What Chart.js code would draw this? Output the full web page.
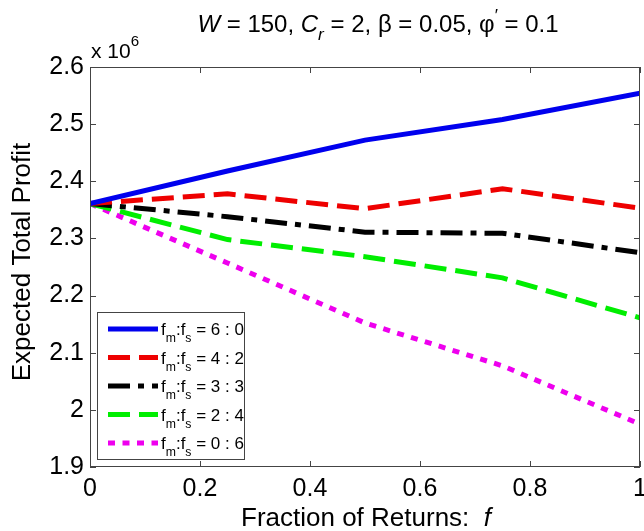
<!DOCTYPE html>
<html>
<head>
<meta charset="utf-8">
<script src="https://cdn.jsdelivr.net/npm/chart.js@4/dist/chart.umd.min.js"></script>
<style>
    html, body { margin: 0; background: #fff; }
    #wrap { width: 644px; height: 531px; }
</style>
</head>
<body>
<div id="wrap"><canvas id="profitChart"></canvas></div>
<script>
// Fraction of returns f
const fractions = [0, 0.25, 0.5, 0.75, 1];

// Expected total profit, in units of 10^6
const ratio60 = [2.361, 2.418, 2.472, 2.508, 2.554];
const ratio42 = [2.361, 2.378, 2.352, 2.387, 2.353];
const ratio33 = [2.361, 2.338, 2.311, 2.309, 2.275];
const ratio24 = [2.361, 2.298, 2.268, 2.231, 2.161];
const ratio06 = [2.361, 2.257, 2.152, 2.077, 1.975];

const seriesLabels = ['6 : 0', '4 : 2', '3 : 3', '2 : 4', '0 : 6'];
const xTicks = [0, 0.2, 0.4, 0.6, 0.8, 1];
const yTicks = [1.9, 2, 2.1, 2.2, 2.3, 2.4, 2.5, 2.6];

const FONT = '"Liberation Sans", Arial, Helvetica, sans-serif';

function toPoints(values) {
    return fractions.map((f, i) => ({ x: f, y: values[i] }));
}

// draw a list of text runs (italic / subscript / superscript)
function drawRuns(ctx, x, y, runs, size, align) {
    const fontOf = r => {
        const s = (r.sub || r.sup) ? size * 0.72 : size;
        return (r.italic ? 'italic ' : '') + s + 'px ' + FONT;
    };
    let total = 0;
    runs.forEach(r => { ctx.font = fontOf(r); total += ctx.measureText(r.t).width; });
    let cx = align === 'center' ? x - total / 2 : x;
    ctx.textAlign = 'left';
    ctx.textBaseline = 'alphabetic';
    runs.forEach(r => {
        ctx.font = fontOf(r);
        let dy = 0;
        if (r.sub) dy = size * (r.shift || 0.35);
        if (r.sup) dy = -size * (r.shift || 0.45);
        ctx.fillText(r.t, cx, y + dy);
        cx += ctx.measureText(r.t).width;
    });
}

const decorations = {
    id: 'decorations',
    afterDraw(chart) {
        const ctx = chart.ctx;
        const a = chart.chartArea;
        const xs = chart.scales.x, ys = chart.scales.y;
        ctx.save();

        // axes box and inward ticks
        ctx.strokeStyle = '#444';
        ctx.lineWidth = 1;
        ctx.strokeRect(a.left + 0.5, a.top + 0.5, a.right - a.left - 1, a.bottom - a.top - 1);
        ctx.beginPath();
        xTicks.forEach(v => {
            const px = Math.round(xs.getPixelForValue(v)) + 0.5;
            ctx.moveTo(px, a.bottom); ctx.lineTo(px, a.bottom - 6);
            ctx.moveTo(px, a.top); ctx.lineTo(px, a.top + 6);
        });
        yTicks.forEach(v => {
            const py = Math.round(ys.getPixelForValue(v)) + 0.5;
            ctx.moveTo(a.left, py); ctx.lineTo(a.left + 6, py);
            ctx.moveTo(a.right, py); ctx.lineTo(a.right - 6, py);
        });
        ctx.stroke();

        ctx.fillStyle = '#000';
        // title
        drawRuns(ctx, 378, 32, [
            { t: 'W', italic: true }, { t: ' = 150, ' },
            { t: 'C', italic: true }, { t: 'r', italic: true, sub: true },
            { t: ' = 2, β = 0.05, φ' }, { t: '′', sup: true }, { t: ' = 0.1' }
        ], 24, 'center');

        // exponent label
        drawRuns(ctx, a.left + 1, 58, [{ t: 'x 10' }, { t: '6', sup: true, shift: 0.55 }], 21, 'left');

        // x axis title
        drawRuns(ctx, 366, 526, [
            { t: 'Fraction of Returns:  ' }, { t: 'f', italic: true }
        ], 26, 'center');

        // y axis title
        ctx.save();
        ctx.translate(30, 262);
        ctx.rotate(-Math.PI / 2);
        drawRuns(ctx, 0, 0, [{ t: 'Expected Total Profit' }], 26, 'center');
        ctx.restore();

        // legend
        const lx = 97, ly = 312, lw = 147, lh = 147;
        ctx.fillStyle = '#fff';
        ctx.fillRect(lx, ly, lw, lh);
        ctx.strokeStyle = '#444';
        ctx.strokeRect(lx + 0.5, ly + 0.5, lw, lh);
        chart.data.datasets.forEach((ds, i) => {
            const y = ly + 17 + i * 28.5;
            ctx.save();
            ctx.strokeStyle = ds.borderColor;
            ctx.lineWidth = ds.borderWidth;
            ctx.setLineDash(ds.borderDash || []);
            ctx.beginPath();
            ctx.moveTo(lx + 11, y);
            ctx.lineTo(lx + 61, y);
            ctx.stroke();
            ctx.restore();
            ctx.fillStyle = '#000';
            drawRuns(ctx, lx + 64, y + 6, [
                { t: 'f' }, { t: 'm', sub: true, shift: 0.42 }, { t: ':f' }, { t: 's', sub: true, shift: 0.42 },
                { t: ' = ' + seriesLabels[i] }
            ], 17, 'left');
        });
        ctx.restore();
    }
};

const lineStyle = (data, color, dash) => ({
    data: toPoints(data),
    borderColor: color,
    borderWidth: 5,
    borderDash: dash,
    pointRadius: 0,
    fill: false,
    tension: 0
});

new Chart(document.getElementById('profitChart'), {
    type: 'line',
    data: {
        datasets: [
            lineStyle(ratio60, '#0000ee', []),
            lineStyle(ratio42, '#ee0000', [22, 9]),
            lineStyle(ratio33, '#000000', [22, 8, 6, 8]),
            lineStyle(ratio24, '#00ee00', [22, 9]),
            lineStyle(ratio06, '#ee00ee', [7, 7.5])
        ]
    },
    options: {
        responsive: true,
        maintainAspectRatio: false,
        animation: false,
        layout: { padding: { top: 67, right: 4, left: 0, bottom: 0 } },
        plugins: { legend: { display: false }, tooltip: { enabled: false } },
        scales: {
            x: {
                type: 'linear',
                min: 0,
                max: 1,
                afterBuildTicks: s => { s.ticks = xTicks.map(v => ({ value: v })); },
                ticks: {
                    color: '#000',
                    font: { family: FONT, size: 25 },
                    padding: 7,
                    maxRotation: 0,
                    callback: v => String(v)
                },
                grid: { drawOnChartArea: false, drawTicks: false },
                border: { display: false },
                afterFit: s => { s.height = 64; s.paddingLeft = 0; s.paddingRight = 0; }
            },
            y: {
                min: 1.9,
                max: 2.6,
                afterBuildTicks: s => { s.ticks = yTicks.map(v => ({ value: v })); },
                ticks: {
                    color: '#000',
                    font: { family: FONT, size: 25 },
                    padding: 6,
                    callback: v => String(Math.round(v * 10) / 10)
                },
                grid: { drawOnChartArea: false, drawTicks: false },
                border: { display: false },
                afterFit: s => { s.width = 90; s.paddingTop = 0; s.paddingBottom = 0; }
            }
        }
    },
    plugins: [decorations]
});
</script>
</body>
</html>
